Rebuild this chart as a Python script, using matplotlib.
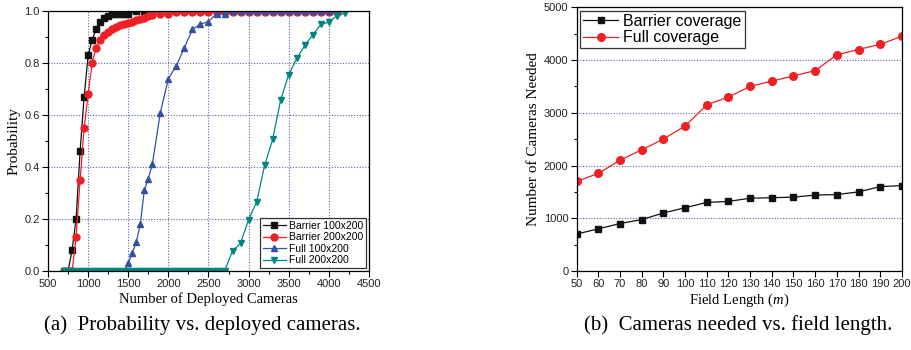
import matplotlib.pyplot as plt
from matplotlib.ticker import MultipleLocator

plt.rcParams["mathtext.fontset"] = "custom"
plt.rcParams["mathtext.it"] = "Liberation Serif:italic"
plt.rcParams["mathtext.rm"] = "Liberation Serif"

# (a) probability vs deployed cameras
barrier1_x = [700, 750, 800, 850, 900, 950, 1000, 1050, 1100, 1150, 1200, 1250,
              1300, 1350, 1400, 1450, 1500, 1600, 1700, 1800, 1900, 2000, 2100,
              2200, 2300, 2400, 2500, 2600, 2700, 2800, 2900, 3000, 3100, 3200,
              3300, 3400, 3500, 3600, 3700, 3800, 3900, 4000, 4100]
barrier1_y = [0.0, 0.0, 0.08, 0.2, 0.46, 0.67, 0.83, 0.89, 0.93, 0.96, 0.973, 0.982,
              0.99, 0.99, 0.99, 0.99, 0.99, 1.0, 1.0, 1.0, 1.0, 1.0, 1.0,
              1.0, 1.0, 1.0, 1.0, 1.0, 1.0, 1.0, 1.0, 1.0, 1.0, 1.0,
              1.0, 1.0, 1.0, 1.0, 1.0, 1.0, 1.0, 1.0, 1.0]

barrier2_x = [700, 750, 800, 850, 900, 950, 1000, 1050, 1100, 1150, 1200, 1250,
              1300, 1350, 1400, 1450, 1500, 1550, 1600, 1650, 1700, 1750, 1800,
              1900, 2000, 2100, 2200, 2300, 2400, 2500, 2600, 2700, 2800, 2900,
              3000, 3100, 3200, 3300, 3400, 3500, 3600, 3700, 3800, 3900, 4000, 4100]
barrier2_y = [0.0, 0.0, 0.0, 0.13, 0.35, 0.55, 0.68, 0.80, 0.86, 0.89, 0.91, 0.92,
              0.93, 0.94, 0.945, 0.95, 0.955, 0.96, 0.965, 0.97, 0.975, 0.98, 0.985,
              0.99, 0.99, 0.995, 0.995, 0.995, 0.995, 0.995, 0.995, 0.995, 0.995, 0.995,
              0.995, 0.995, 0.995, 0.995, 0.995, 0.995, 0.995, 0.995, 0.995, 0.995, 0.995, 0.995]

full1_x = [700, 750, 800, 850, 900, 950, 1000, 1050, 1100, 1150, 1200, 1250,
           1300, 1350, 1400, 1450, 1500, 1550, 1600, 1650, 1700, 1750, 1800,
           1900, 2000, 2100, 2200, 2300, 2400, 2500, 2600, 2700, 2800, 2900,
           3000, 3100, 3200, 3300, 3400, 3500, 3600, 3700, 3800, 3900, 4000, 4100]
full1_y = [0.0, 0.0, 0.0, 0.0, 0.0, 0.0, 0.0, 0.0, 0.0, 0.0, 0.0, 0.0,
           0.0, 0.0, 0.0, 0.0, 0.03, 0.07, 0.11, 0.18, 0.31, 0.356, 0.41,
           0.61, 0.74, 0.79, 0.86, 0.93, 0.95, 0.96, 0.99, 0.99, 1.0, 1.0,
           1.0, 1.0, 1.0, 1.0, 1.0, 1.0, 1.0, 1.0, 1.0, 1.0, 1.0, 1.0]

full2_x = [700, 750, 800, 850, 900, 950, 1000, 1050, 1100, 1150, 1200, 1250,
           1300, 1350, 1400, 1450, 1500, 1550, 1600, 1650, 1700, 1750, 1800,
           1850, 1900, 1950, 2000, 2050, 2100, 2150, 2200, 2250, 2300, 2350,
           2400, 2450, 2500, 2550, 2600, 2650, 2700, 2800, 2900, 3000, 3100,
           3200, 3300, 3400, 3500, 3600, 3700, 3800, 3900, 4000, 4100, 4200]
full2_y = [0.0, 0.0, 0.0, 0.0, 0.0, 0.0, 0.0, 0.0, 0.0, 0.0, 0.0, 0.0,
           0.0, 0.0, 0.0, 0.0, 0.0, 0.0, 0.0, 0.0, 0.0, 0.0, 0.0,
           0.0, 0.0, 0.0, 0.0, 0.0, 0.0, 0.0, 0.0, 0.0, 0.0, 0.0,
           0.0, 0.0, 0.0, 0.0, 0.0, 0.0, 0.0, 0.078, 0.107, 0.198, 0.266,
           0.407, 0.507, 0.659, 0.756, 0.818, 0.868, 0.909, 0.949, 0.958, 0.982, 0.992]

# (b) cameras needed vs field length
field_len = [50, 60, 70, 80, 90, 100, 110, 120, 130, 140, 150, 160, 170, 180, 190, 200]
barrier_needed = [700, 800, 900, 975, 1100, 1200, 1300, 1320, 1380, 1390, 1400,
                  1440, 1450, 1500, 1600, 1620]
full_needed = [1700, 1850, 2100, 2300, 2500, 2750, 3150, 3300, 3500, 3600, 3700,
               3800, 4100, 4200, 4300, 4450]

BLACK = "#111111"
RED = "#ee2024"
BLUE = "#3350a3"
TEAL = "#008583"
GRID = "#5566bb"

sans = "Liberation Sans"
serif = "Liberation Serif"

fig = plt.figure(figsize=(9.11, 3.5), dpi=100)
ax1 = fig.add_axes([0.0527, 0.2257, 0.3523, 0.7423])
ax2 = fig.add_axes([0.633, 0.2257, 0.357, 0.7534])

ms = 4.5
ax1.plot(barrier1_x, barrier1_y, color=BLACK, marker="s", ms=ms, lw=0.9, label="Barrier 100x200")
ax1.plot(barrier2_x, barrier2_y, color=RED, marker="o", ms=ms + 0.5, lw=0.9, label="Barrier 200x200")
ax1.plot(full1_x, full1_y, color=BLUE, marker="^", ms=ms + 0.5, lw=0.9, label="Full 100x200")
ax1.plot(full2_x, full2_y, color=TEAL, marker="v", ms=ms + 0.5, lw=0.9, label="Full 200x200")

ax1.set_xlim(500, 4500)
ax1.set_ylim(0, 1.0)
ax1.xaxis.set_major_locator(MultipleLocator(500))
ax1.xaxis.set_minor_locator(MultipleLocator(250))
ax1.yaxis.set_major_locator(MultipleLocator(0.2))
ax1.yaxis.set_minor_locator(MultipleLocator(0.1))
ax1.yaxis.set_major_formatter(lambda v, p: f"{v:.1f}")
ax1.grid(True, which="major", color=GRID, ls=(0, (1, 1.5)), lw=0.8)
ax1.set_xlabel("Number of Deployed Cameras", family=serif, fontsize=10.5, labelpad=2)
ax1.set_ylabel("Probability", family=serif, fontsize=11, labelpad=3)
leg1 = ax1.legend(loc="lower right", prop={"family": sans, "size": 7.5}, frameon=True,
                  fancybox=False, edgecolor="black", borderpad=0.25, labelspacing=0.15,
                  handlelength=2.2, handletextpad=0.3, borderaxespad=0.3)
leg1.get_frame().set_linewidth(0.9)

ax2.plot(field_len, barrier_needed, color=BLACK, marker="s", ms=ms + 0.5, lw=0.9, label="Barrier coverage")
ax2.plot(field_len, full_needed, color=RED, marker="o", ms=ms + 1, lw=0.9, label="Full coverage")
ax2.set_xlim(50, 200)
ax2.set_ylim(0, 5000)
ax2.xaxis.set_major_locator(MultipleLocator(10))
ax2.yaxis.set_major_locator(MultipleLocator(1000))
ax2.yaxis.set_minor_locator(MultipleLocator(500))
ax2.grid(True, axis="y", which="major", color=GRID, ls=(0, (1, 1.5)), lw=0.8)
ax2.set_xlabel("Field Length ($\\mathit{m}$)", family=serif, fontsize=10.5, labelpad=2)
ax2.set_ylabel("Number of Cameras Needed", family=serif, fontsize=11, labelpad=3)
leg2 = ax2.legend(loc="upper left", prop={"family": sans, "size": 11.5}, frameon=True,
                  fancybox=False, edgecolor="black", borderpad=0.2, labelspacing=0.1,
                  handlelength=2.2, handletextpad=0.3, borderaxespad=0.2)
leg2.get_frame().set_linewidth(0.9)

for ax in (ax1, ax2):
    ax.set_axisbelow(True)
    ax.tick_params(which="both", direction="out", labelsize=8, pad=2)
    ax.tick_params(which="major", length=4, width=0.8)
    ax.tick_params(which="minor", length=2.5, width=0.8)
    for lab in ax.get_xticklabels() + ax.get_yticklabels():
        lab.set_family(sans)
        lab.set_color("#222222")
    for s in ax.spines.values():
        s.set_linewidth(0.9)

fig.text(0.222, 0.07, "(a)  Probability vs. deployed cameras.", family=serif,
         fontsize=15, ha="center", va="center")
fig.text(0.81, 0.07, "(b)  Cameras needed vs. field length.", family=serif,
         fontsize=15, ha="center", va="center")

fig.savefig("out.png", dpi=100)
